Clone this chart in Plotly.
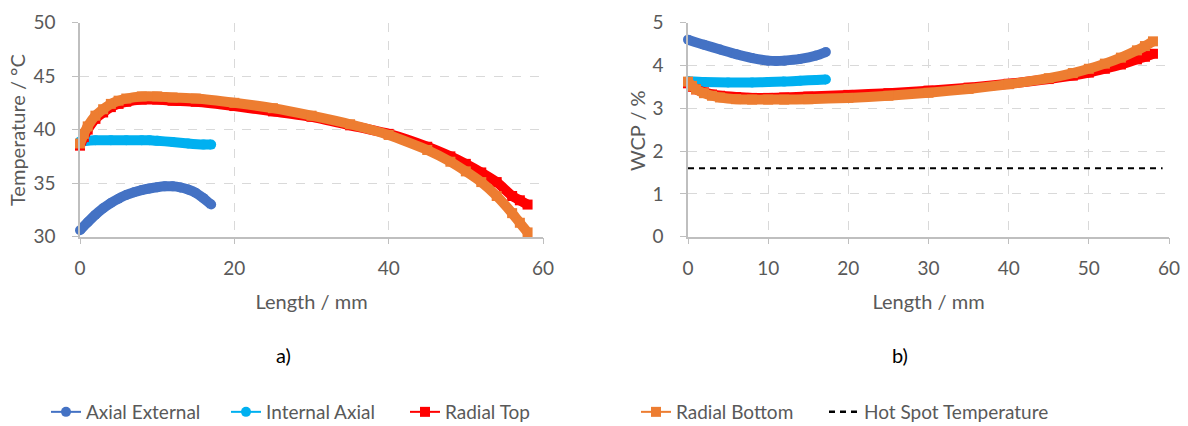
import plotly.graph_objects as go

# ---------------- data ----------------
# a) Temperature (°C) vs length (mm)
ax_ext_x = [0, 1, 2, 3, 4, 5, 6, 7, 8, 9, 10, 11, 12, 13, 14, 15, 16, 17]
ax_ext_t = [30.6, 31.35, 32.05, 32.65, 33.15, 33.55, 33.9, 34.15, 34.35, 34.5, 34.62, 34.7,
            34.7, 34.6, 34.4, 34.1, 33.6, 33.0]

int_ax_x = [0, 2, 4, 6, 8, 9, 10, 12, 14, 16, 17]
int_ax_t = [38.9, 39.0, 39.0, 39.0, 39.0, 39.0, 38.95, 38.85, 38.7, 38.6, 38.6]

rad_x = [0, 0.5, 1, 2, 3, 4, 5, 6, 8, 10, 12, 15, 20, 25, 30, 35, 40, 45, 48, 50, 52, 54, 56, 57, 58]
rad_top_t = [38.5, 39.3, 40.0, 41.0, 41.6, 42.1, 42.4, 42.6, 42.8, 42.8, 42.7, 42.6, 42.2, 41.7,
             41.2, 40.4, 39.6, 38.4, 37.5, 36.8, 36.0, 35.1, 33.8, 33.4, 33.0]
rad_bot_t = [38.7, 39.6, 40.3, 41.3, 41.9, 42.4, 42.7, 42.9, 43.1, 43.1, 43.0, 42.9, 42.5, 42.0,
             41.3, 40.5, 39.5, 38.1, 37.0, 36.1, 35.1, 33.8, 32.2, 31.3, 30.4]

# b) WCP (%) vs length (mm)
ax_ext_wx = [0, 2, 4, 6, 8, 10, 11, 12, 14, 16, 17.2]
ax_ext_w = [4.6, 4.48, 4.37, 4.26, 4.17, 4.11, 4.10, 4.11, 4.15, 4.23, 4.31]

int_ax_wx = [0, 2, 5, 8, 10, 12, 14, 16, 17.2]
int_ax_w = [3.63, 3.61, 3.60, 3.60, 3.61, 3.62, 3.64, 3.66, 3.67]

rad_wx = [0, 0.5, 1, 2, 3, 4, 6, 8, 10, 12, 15, 20, 25, 30, 35, 40, 45, 48, 50, 52, 54, 56, 57, 58]
rad_top_w = [3.58, 3.50, 3.44, 3.37, 3.32, 3.29, 3.26, 3.24, 3.24, 3.25, 3.27, 3.31, 3.35, 3.41,
             3.48, 3.57, 3.68, 3.76, 3.83, 3.92, 4.02, 4.14, 4.20, 4.27]
rad_bot_w = [3.62, 3.52, 3.44, 3.35, 3.29, 3.25, 3.21, 3.20, 3.20, 3.20, 3.21, 3.24, 3.29, 3.36,
             3.45, 3.56, 3.70, 3.82, 3.92, 4.04, 4.18, 4.35, 4.45, 4.56]

hot_spot_x = [0, 59.2]
hot_spot_w = [1.6, 1.6]

series_names = ["Axial External", "Internal Axial", "Radial Top", "Radial Bottom",
                "Hot Spot Temperature"]
series_colors = ["#4472C4", "#00B0F0", "#FF0000", "#ED7D31", "#000000"]
series_symbols = ["circle", "circle", "square", "square", None]
legend_text_px = [88, 268, 447, 678, 866]

# ---------------- figure ----------------
FONT = "Lato, 'Open Sans', sans-serif"
GRAY = "#595959"
H = 426.0
W = 1188.0
fig = go.Figure()

def thick(x, y, color, symbol, xa, ya):
    fig.add_trace(go.Scatter(
        x=x, y=y, xaxis=xa, yaxis=ya, mode="lines+markers",
        line=dict(color=color, width=10, shape="spline", smoothing=0.5),
        marker=dict(color=color, size=10, symbol=symbol),
        showlegend=False, cliponaxis=False, hoverinfo="skip"))

temp_sets = [(ax_ext_x, ax_ext_t), (int_ax_x, int_ax_t), (rad_x, rad_top_t), (rad_x, rad_bot_t)]
wcp_sets = [(ax_ext_wx, ax_ext_w), (int_ax_wx, int_ax_w), (rad_wx, rad_top_w), (rad_wx, rad_bot_w)]
for i, (x, y) in enumerate(temp_sets):
    thick(x, y, series_colors[i], series_symbols[i], "x", "y")
for i, (x, y) in enumerate(wcp_sets):
    thick(x, y, series_colors[i], series_symbols[i], "x2", "y2")

fig.add_trace(go.Scatter(x=hot_spot_x, y=hot_spot_w, xaxis="x2", yaxis="y2", mode="lines",
                         line=dict(color="#000000", width=2, dash="6px,5px"),
                         showlegend=False, hoverinfo="skip"))

# legend-only entries, one legend box per entry
legend_layouts = {}
for i, name in enumerate(series_names):
    lg = "legend" if i == 0 else f"legend{i + 1}"
    if series_symbols[i] is None:
        fig.add_trace(go.Scatter(x=[None], y=[None], name=name, mode="lines", legend=lg,
                                 line=dict(color=series_colors[i], width=2.5, dash="6px,5px")))
    else:
        fig.add_trace(go.Scatter(x=[None], y=[None], name=name, mode="lines+markers", legend=lg,
                                 line=dict(color=series_colors[i], width=2),
                                 marker=dict(color=series_colors[i], size=10,
                                             symbol=series_symbols[i])))
    legend_layouts[lg] = dict(orientation="h", x=(legend_text_px[i] - 42) / W, xanchor="left",
                              y=1 - 412 / H, yanchor="middle", borderwidth=0,
                              font=dict(family=FONT, size=19, color=GRAY),
                              bgcolor="rgba(0,0,0,0)")

ydom = [1 - 236.7 / H, 1 - 22.5 / H]

common = dict(showgrid=True, gridcolor="#D9D9D9", griddash="dash", gridwidth=1,
              showline=True, linecolor="#BFBFBF", linewidth=1.5,
              ticks="outside", ticklen=6, tickcolor="#BFBFBF",
              tickfont=dict(family=FONT, size=19, color=GRAY),
              zeroline=False)
title_font = dict(family=FONT, size=20, color=GRAY)

fig.update_layout(
    width=1188, height=426,
    margin=dict(l=0, r=0, t=0, b=0, autoexpand=False),
    paper_bgcolor="white", plot_bgcolor="white",
    font=dict(family=FONT, color=GRAY),
    xaxis=dict(domain=[80 / W, 543 / W], range=[0, 60], dtick=20, anchor="y",
               title=dict(text="Length / mm", font=title_font, standoff=17),
               ticklabelstandoff=8, **common),
    yaxis=dict(domain=ydom, range=[30, 50], dtick=5, anchor="x",
               ticklabelstandoff=13, **common),
    xaxis2=dict(domain=[688 / W, 1169 / W], range=[0, 60], dtick=10, anchor="y2",
                title=dict(text="Length / mm", font=title_font, standoff=17),
                ticklabelstandoff=8, **common),
    yaxis2=dict(domain=ydom, range=[0, 5], dtick=1, anchor="x2",
                ticklabelstandoff=13, **common),
    annotations=[
        dict(text="Temperature / °C", x=17 / W, y=1 - 130 / H, xref="paper", yref="paper",
             xanchor="center", yanchor="middle",
             showarrow=False, textangle=-90, font=title_font),
        dict(text="WCP / %", x=637 / W, y=1 - 131 / H, xref="paper", yref="paper",
             xanchor="center", yanchor="middle",
             showarrow=False, textangle=-90, font=title_font),
        dict(text="a)", x=283 / W, y=1 - 355 / H, xref="paper", yref="paper", showarrow=False,
             xanchor="center", yanchor="middle",
             font=dict(family=FONT, size=20, color="#000000")),
        dict(text="b)", x=900 / W, y=1 - 355 / H, xref="paper", yref="paper", showarrow=False,
             xanchor="center", yanchor="middle",
             font=dict(family=FONT, size=20, color="#000000")),
    ],
    **legend_layouts,
)

fig.write_html("out.html", post_script="document.body.style.margin='0';",
               config={"displayModeBar": False})
